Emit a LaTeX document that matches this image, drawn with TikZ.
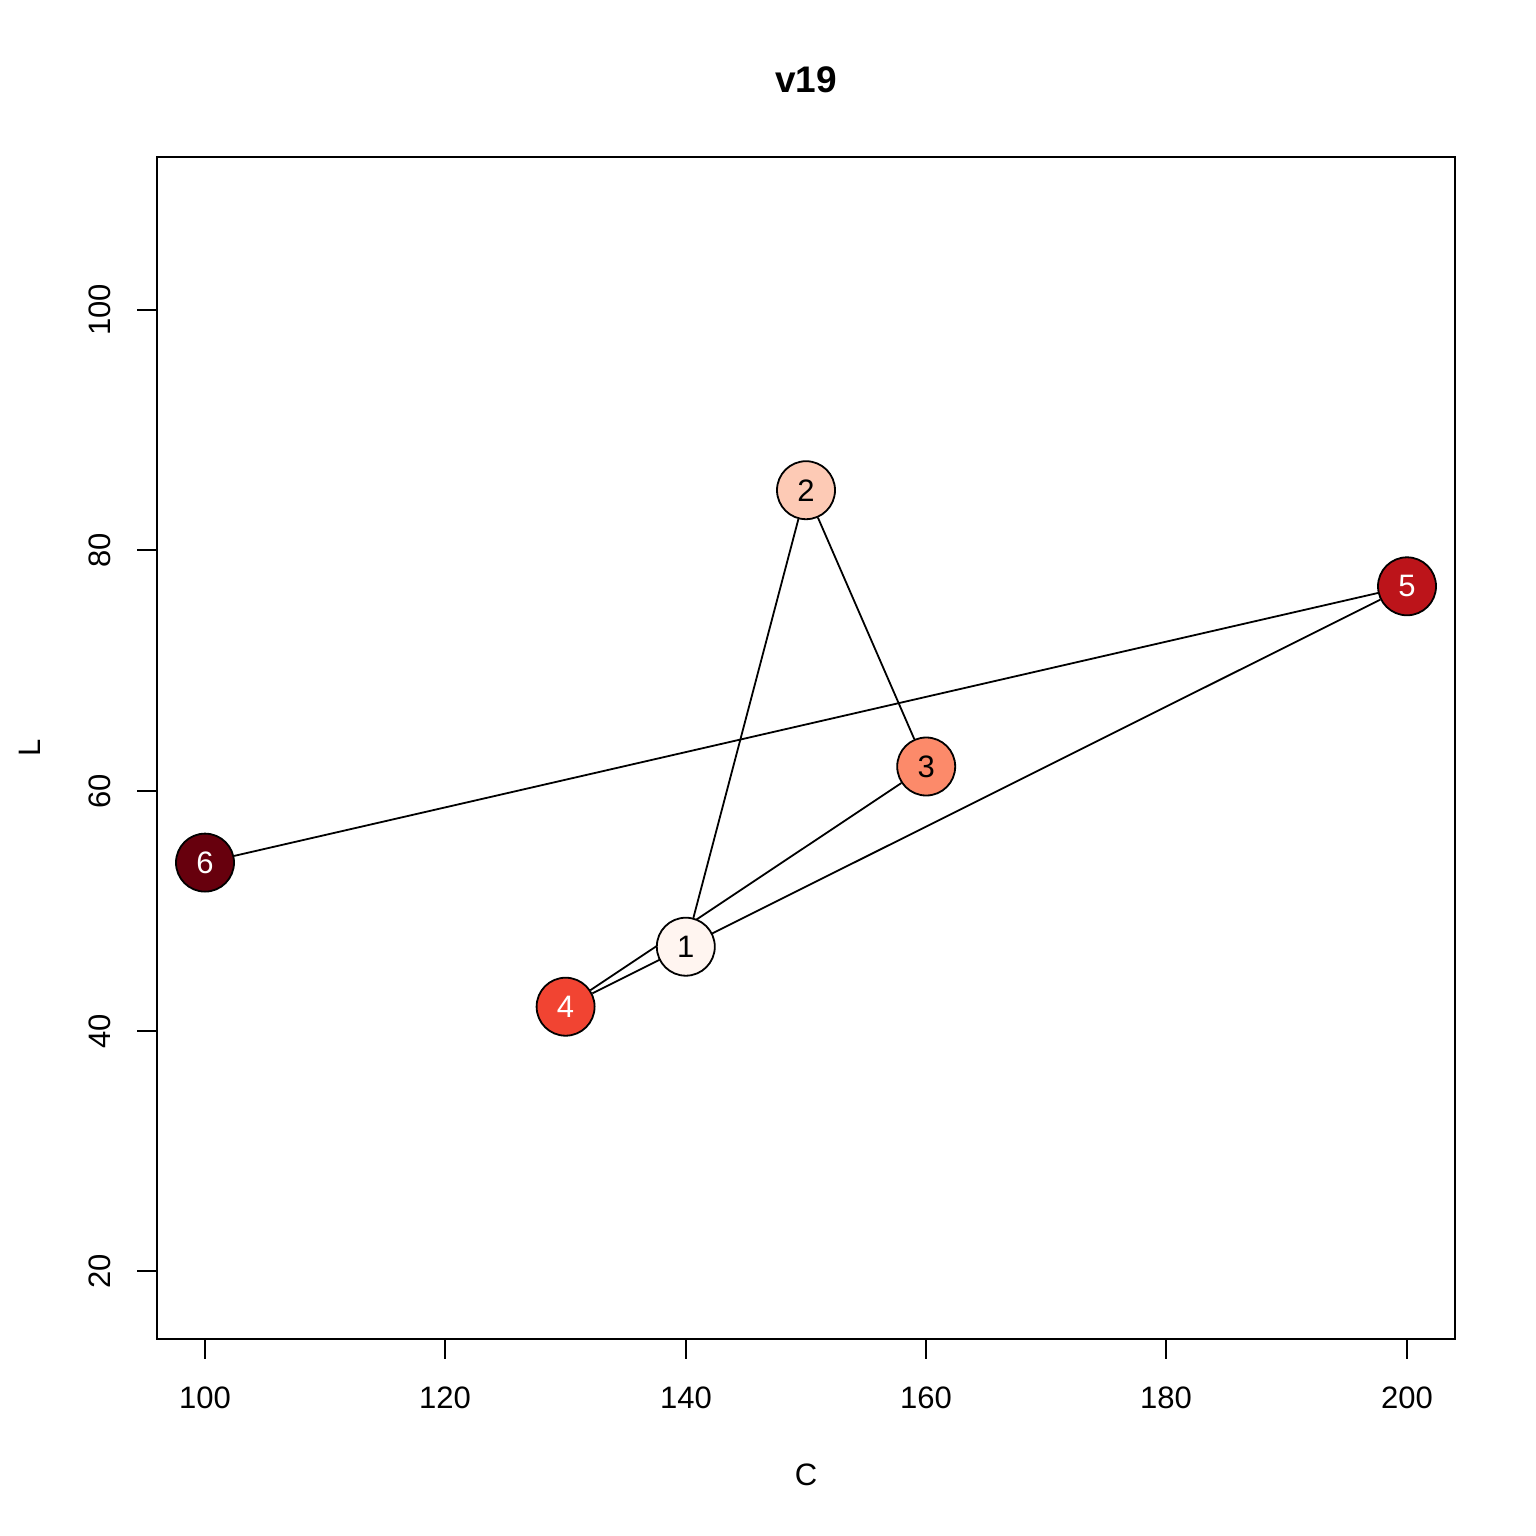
\documentclass[tikz,border=0pt]{standalone}
\usepackage{fontspec}
\setmainfont{Liberation Sans}
\pgfdeclarelayer{background}
\pgfsetlayers{background,main}
\definecolor{c1}{HTML}{FFF5F0}
\definecolor{c2}{HTML}{FDCAB5}
\definecolor{c3}{HTML}{FC8A6A}
\definecolor{c4}{HTML}{F14432}
\definecolor{c5}{HTML}{BC141A}
\definecolor{c6}{HTML}{67000D}
\tikzset{
  vtx/.style={circle, draw=black, line width=1.8pt, minimum size=58pt, inner sep=0pt,
    font=\fontsize{31}{31}\selectfont},
  edge/.style={line width=1.8pt, black},
  tick/.style={line width=1.8pt},
  ticklab/.style={font=\fontsize{31}{31}\selectfont, inner sep=0pt},
  axlab/.style={font=\fontsize{31}{31}\selectfont, inner sep=0pt},
  ttl/.style={font=\fontsize{37}{37}\selectfont\bfseries, inner sep=0pt}
}
\begin{document}
\begin{tikzpicture}[x=1pt,y=-1pt]
\useasboundingbox (0,0) rectangle (1536,1536);
\begin{pgfonlayer}{background}
\fill[white] (0,0) rectangle (1536,1536);
\end{pgfonlayer}
% plot box
\draw[line width=1.8pt] (157,157) rectangle (1455,1339);
% x ticks
\foreach \xv/\lab in {205/100,445/120,686/140,926/160,1166/180,1407/200}{
  \draw[tick] (\xv,1339) -- (\xv,1359);
  \node[ticklab] (xl\lab) at (\xv,1398) {\lab};
}
% y ticks
\foreach \yv/\lab in {1271/20,1031/40,791/60,550/80,310/100}{
  \draw[tick] (157,\yv) -- (137,\yv);
  \node[ticklab, rotate=90] (yl\lab) at (100,\yv) {\lab};
}
\node[ttl] (title) at (806,80) {v19};
\node[axlab] (xlab) at (806,1475) {C};
\node[axlab, rotate=90] (ylab) at (30,748) {L};
% vertices
\node[vtx, fill=c1, text=black] (n1) at (685.8,946.7) {1};
\node[vtx, fill=c2, text=black] (n2) at (806,490.2) {2};
\node[vtx, fill=c3, text=black] (n3) at (926.2,766.5) {3};
\node[vtx, fill=c4, text=white] (n4) at (565.6,1006.7) {4};
\node[vtx, fill=c5, text=white] (n5) at (1407,586.3) {5};
\node[vtx, fill=c6, text=white] (n6) at (205,862.6) {6};
% edges
\begin{pgfonlayer}{background}
\draw[edge] (n1) -- (n2);
\draw[edge] (n2) -- (n3);
\draw[edge] (n3) -- (n4);
\draw[edge] (n4) -- (n5);
\draw[edge] (n5) -- (n6);
\end{pgfonlayer}
\end{tikzpicture}
\end{document}
